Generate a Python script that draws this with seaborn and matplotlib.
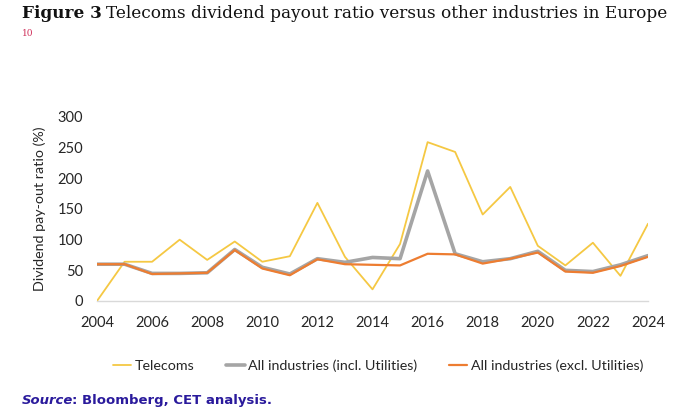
import numpy as np
import pandas as pd
import matplotlib
matplotlib.use("Agg")
import matplotlib.pyplot as plt
import seaborn as sns

# values
years = list(range(2004, 2025))
telecoms = [0, 64, 64, 100, 67, 97, 64, 73, 160, 72, 19, 93, 259, 243, 141, 186, 90, 58, 95, 41, 126]
all_incl_util = [60, 60, 45, 45, 46, 84, 55, 44, 69, 63, 71, 69, 212, 77, 64, 69, 81, 50, 48, 59, 74]
all_excl_util = [60, 60, 44, 45, 46, 83, 53, 42, 68, 60, 59, 58, 77, 76, 61, 69, 79, 48, 46, 57, 72]

series_names = ["Telecoms", "All industries (incl. Utilities)", "All industries (excl. Utilities)"]
colors = ["#F5C843", "#A5A5A5", "#ED7D31"]
widths = [1.3, 2.6, 1.6]
xticks = list(range(2004, 2025, 2))
yticks = [0, 50, 100, 150, 200, 250, 300]

df = pd.DataFrame({
    "year": years * 3,
    "value": telecoms + all_incl_util + all_excl_util,
    "series": [series_names[0]] * len(years) + [series_names[1]] * len(years) + [series_names[2]] * len(years),
})

sns.set_style("white")
plt.rcParams["font.family"] = ["Lato", "DejaVu Sans"]
serif = ["DejaVu Serif"]

fig = plt.figure(figsize=(6.8, 4.17), dpi=100)
ax = fig.add_axes([97 / 680, 1 - 301 / 417, 551 / 680, 184 / 417])

sns.lineplot(data=df, x="year", y="value", hue="series", hue_order=series_names,
             palette=colors, ax=ax, legend=False)
for line, w in zip(ax.get_lines(), widths):
    line.set_linewidth(w)

ax.set_xlim(2004, 2024)
ax.set_ylim(0, 300)
ax.set_xticks(xticks)
ax.set_yticks(yticks)
ax.tick_params(axis="x", labelsize=10.5, length=3, width=0.8, color="#D9D9D9", pad=8)
ax.tick_params(axis="y", labelsize=10.5, length=0, pad=10)
for lab in ax.get_xticklabels() + ax.get_yticklabels():
    lab.set_color("#262626")
ax.set_xlabel("")
ax.set_ylabel("Dividend pay-out ratio (%)", fontsize=10.3, color="#262626", labelpad=8)
for side in ["left", "right", "top"]:
    ax.spines[side].set_visible(False)
ax.spines["bottom"].set_color("#D9D9D9")
ax.spines["bottom"].set_linewidth(1)
ax.grid(False)

handles = [plt.Line2D([], [], color=c, lw=w) for c, w in zip(colors, widths)]
fig.legend(handles, series_names, loc="center", bbox_to_anchor=(378 / 680, 1 - 365.5 / 417),
           ncol=3, frameon=False, fontsize=10.3, handlelength=1.3, handletextpad=0.25,
           columnspacing=2.2, labelcolor="#262626")

# title: bold "Figure 3" followed by regular text
t1 = fig.text(22 / 680, 1 - 18.5 / 417, "Figure 3", fontsize=12.15, fontweight="bold",
              family=serif, color="#111111", va="baseline")
fig.canvas.draw()
bb = t1.get_window_extent()
fig.text((bb.x1 + 4) / 680, 1 - 18.5 / 417, "Telecoms dividend payout ratio versus other industries in Europe",
         fontsize=12.15, family=serif, color="#111111", va="baseline")
fig.text(22 / 680, 1 - 36 / 417, "10", fontsize=6.5, color="#D0305A", family=serif, va="baseline")

s1 = fig.text(22 / 680, 1 - 404 / 417, "Source", fontsize=9.5, fontweight="bold", fontstyle="italic",
              color="#2A1A9C", family=["DejaVu Sans"], va="baseline")
fig.canvas.draw()
bb = s1.get_window_extent()
fig.text((bb.x1 - 1.5) / 680, 1 - 404 / 417, ": Bloomberg, CET analysis.", fontsize=9.5, fontweight="bold",
         color="#2A1A9C", family=["DejaVu Sans"], va="baseline")

fig.savefig("out.png", dpi=100)
